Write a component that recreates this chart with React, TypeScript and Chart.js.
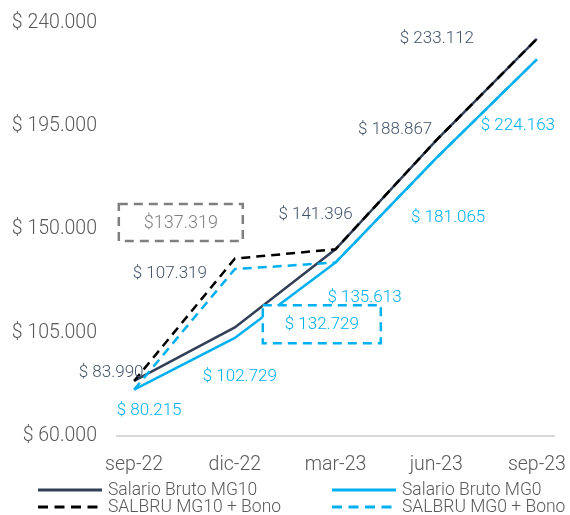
import { useEffect, useRef } from 'react';
import { Chart, registerables } from 'chart.js';

Chart.register(...registerables);

const categories = ['sep-22', 'dic-22', 'mar-23', 'jun-23', 'sep-23'];
const salarioMG10 = [83990, 107319, 141396, 188867, 233112];
const salarioMG0 = [80215, 102729, 135613, 181065, 224163];
const salbruMG10Bono = [83990, 137319, 141396, 188867, 233112];
const salbruMG0Bono = [80215, 132729, 135613, 181065, 224163];
const yMin = 60000;
const yMax = 240000;
const yStep = 45000;

const NAVY = '#323f56';
const NAVY_TEXT = '#44546a';
const BLUE = '#00b0f0';
const GRAY_TEXT = '#595959';
const BOX_GRAY = '#7f7f7f';
const FONT = 'Roboto';

const fmt = (v: number, space = true) =>
  '$' + (space ? ' ' : '') + String(Math.round(v)).replace(/\B(?=(\d{3})+(?!\d))/g, '.');

const toXY = (arr: number[]) => arr.map((y, i) => ({ x: i, y }));

const labelsPlugin = {
  id: 'customLabels',
  afterDatasetsDraw(chart: any, _args: any, opts: any) {
    const ctx = chart.ctx;
    ctx.save();
    ctx.textAlign = 'center';
    ctx.textBaseline = 'middle';
    for (const cfg of opts.labels) {
      const meta = chart.getDatasetMeta(cfg.dataset);
      const data = chart.data.datasets[cfg.dataset].data;
      ctx.font = `300 ${cfg.size}px ${FONT}`;
      ctx.fillStyle = cfg.color;
      cfg.offsets.forEach((off: number[], i: number) => {
        const pt = meta.data[i];
        if (!pt) return;
        ctx.fillText(fmt(data[i].y), pt.x + off[0], pt.y + off[1]);
      });
    }
    for (const b of opts.boxes) {
      const meta = chart.getDatasetMeta(b.dataset);
      const pt = meta.data[b.index];
      const val = chart.data.datasets[b.dataset].data[b.index].y;
      const cx = pt.x + b.offset[0];
      const cy = pt.y + b.offset[1];
      const x0 = cx - b.w / 2;
      const y0 = cy - b.h / 2;
      ctx.fillStyle = '#ffffff';
      ctx.fillRect(x0, y0, b.w, b.h);
      ctx.setLineDash([9, 6]);
      ctx.lineWidth = 2.5;
      ctx.strokeStyle = b.color;
      ctx.strokeRect(x0, y0, b.w, b.h);
      ctx.setLineDash([]);
      ctx.font = `300 ${b.size}px ${FONT}`;
      ctx.fillStyle = b.textColor;
      ctx.fillText(fmt(val, b.space), cx, cy + 1);
    }
    ctx.restore();
  },
};

const legendPlugin = {
  id: 'customLegend',
  afterDraw(chart: any, _args: any, opts: any) {
    const ctx = chart.ctx;
    ctx.save();
    ctx.textAlign = 'left';
    ctx.textBaseline = 'middle';
    ctx.font = `300 ${opts.size}px ${FONT}`;
    chart.data.datasets.forEach((ds: any, i: number) => {
      const col = i % 2;
      const row = Math.floor(i / 2);
      const x = opts.cols[col];
      const y = opts.rows[row];
      ctx.beginPath();
      ctx.setLineDash(ds.borderDash && ds.borderDash.length ? [10, 6.5] : []);
      ctx.lineWidth = 3;
      ctx.strokeStyle = ds.borderColor;
      ctx.moveTo(x, y);
      ctx.lineTo(x + opts.lineLen, y);
      ctx.stroke();
      ctx.setLineDash([]);
      ctx.fillStyle = GRAY_TEXT;
      ctx.fillText(ds.label, x + opts.lineLen + 6, y + 1);
    });
    ctx.restore();
  },
};

export default function App() {
  const ref = useRef<HTMLCanvasElement | null>(null);

  useEffect(() => {
    if (!ref.current) return;
    const chart = new Chart(ref.current, {
      type: 'line',
      data: {
        datasets: [
          { label: 'Salario Bruto MG10', data: toXY(salarioMG10), borderColor: NAVY, backgroundColor: NAVY, borderWidth: 2.5, pointRadius: 0, tension: 0, order: 2 },
          { label: 'Salario Bruto MG0', data: toXY(salarioMG0), borderColor: BLUE, backgroundColor: BLUE, borderWidth: 2.5, pointRadius: 0, tension: 0, order: 2 },
          { label: 'SALBRU MG10 + Bono', data: toXY(salbruMG10Bono), borderColor: '#000000', backgroundColor: '#000000', borderWidth: 2.5, borderDash: [9, 6], pointRadius: 0, tension: 0, order: 1 },
          { label: 'SALBRU MG0 + Bono', data: toXY(salbruMG0Bono), borderColor: BLUE, backgroundColor: BLUE, borderWidth: 2.5, borderDash: [9, 6], pointRadius: 0, tension: 0, order: 1 },
        ],
      } as any,
      options: {
        animation: false,
        responsive: false,
        layout: { padding: { top: 23, right: 16, left: 0, bottom: 0 } },
        plugins: {
          legend: { display: false },
          tooltip: { enabled: false },
          customLabels: {
            labels: [
              { dataset: 0, color: NAVY_TEXT, size: 17, offsets: [[-23, -8], [-65, -54], [-20, -34], [-41, -11], [-100, 0]] },
              { dataset: 1, color: BLUE, size: 17, offsets: [[15, 21], [5, 39], [29, 35], [12, 60], [-19, 66]] },
            ],
            boxes: [
              { dataset: 2, index: 1, offset: [-54, -36], w: 124, h: 37, color: BOX_GRAY, textColor: '#808080', size: 18, space: false },
              { dataset: 3, index: 1, offset: [87, 55], w: 118, h: 38, color: BLUE, textColor: BLUE, size: 17, space: true },
            ],
          },
          customLegend: { size: 17.5, cols: [38, 332], rows: [490, 507], lineLen: 64 },
        } as any,
        scales: {
          x: {
            type: 'linear',
            min: -0.17,
            max: 4.17,
            afterFit: (s: any) => {
              s.height = 79;
              s.paddingLeft = 0;
              s.paddingRight = 0;
            },
            grid: { display: false, drawTicks: false },
            border: { display: true, color: '#d9d9d9', width: 2 },
            ticks: {
              stepSize: 1, includeBounds: false, autoSkip: false, maxRotation: 0, padding: 17, color: GRAY_TEXT,
              font: { family: FONT, size: 19.5, weight: 300 as any },
              callback: (v: any) => (Number.isInteger(v) && categories[v] ? categories[v] : ''),
            },
          },
          y: {
            type: 'linear',
            min: yMin,
            max: yMax,
            afterFit: (s: any) => {
              s.width = 117;
              s.paddingTop = 0;
              s.paddingBottom = 0;
            },
            grid: { display: false, drawTicks: false },
            border: { display: false },
            ticks: {
              stepSize: yStep, padding: 20, color: GRAY_TEXT,
              font: { family: FONT, size: 19.5, weight: 300 as any },
              callback: (v: any) => fmt(Number(v)),
            },
          },
        },
      },
      plugins: [labelsPlugin, legendPlugin],
    });
    return () => chart.destroy();
  }, []);

  return (
    <div style={{ position: 'fixed', left: 0, top: 0, width: 570, height: 515, background: '#fff' }}>
      <canvas ref={ref} width={570} height={515} style={{ display: 'block' }} />
    </div>
  );
}
